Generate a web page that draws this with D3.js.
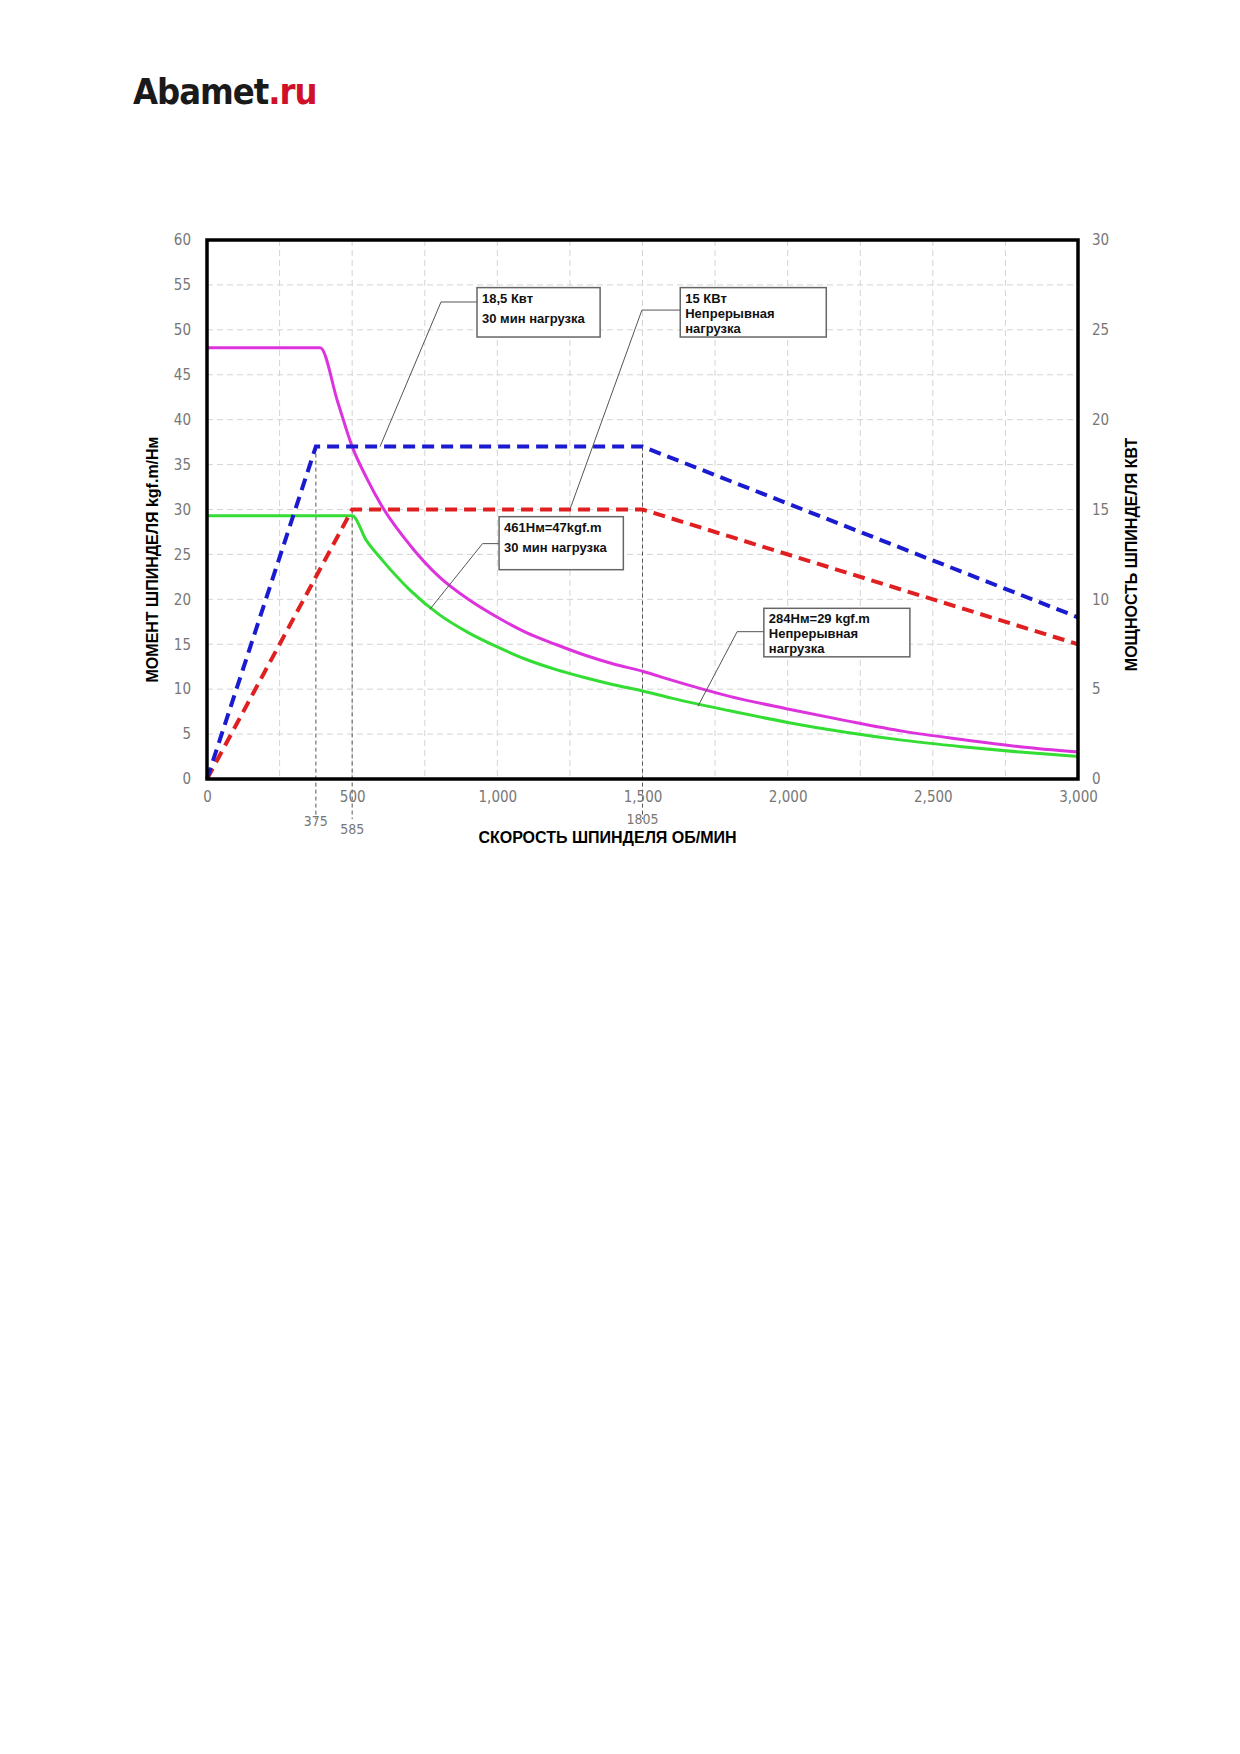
<!DOCTYPE html><html><head><meta charset="utf-8"><script src="https://cdn.jsdelivr.net/npm/d3@7"></script>
<style>body{margin:0;background:#fff}</style></head><body><svg id="c" width="1240" height="1754"></svg><script>
const torque30 = [[0,48],[390,48],[450,42],[500,37],[550,33.5],[600,30.5],[700,26],[800,22.5],[900,20],[1000,18],[1100,16.3],[1200,15],[1300,13.8],[1400,12.8],[1500,12],[1600,11],[1800,9.2],[2000,7.8],[2200,6.5],[2400,5.3],[2600,4.4],[2800,3.6],[3000,3]];
const torqueCont = [[0,29.3],[500,29.3],[550,26.5],[600,24.5],[700,21],[800,18.3],[900,16.3],[1000,14.7],[1100,13.3],[1200,12.2],[1300,11.3],[1400,10.5],[1500,9.8],[1600,9],[1800,7.6],[2000,6.3],[2200,5.2],[2400,4.3],[2600,3.6],[2800,3],[3000,2.5]];
const power30 = [[0,0],[375,18.5],[1500,18.5],[3000,9]];
const powerCont = [[0,0],[500,15],[1500,15],[3000,7.5]];
const xTicks = [0,500,1000,1500,2000,2500,3000];
const yLeftTicks = [0,5,10,15,20,25,30,35,40,45,50,55,60];
const yRightTicks = [0,5,10,15,20,25,30];
const markers = [375,500,1500];
const markerLabels = [{x:375,t:"375",dy:47},{x:500,t:"585",dy:55},{x:1500,t:"1805",dy:45}];
const notes = [
 {box:[930,1354,54.7,49.2],lines:["18,5 Квт","30 мин нагрузка"],lead:[[930,53.1],[806,53.1],[596,37]]},
 {box:[1630,2133,54.7,49.2],lines:["15 КВт","Непрерывная","нагрузка"],lead:[[1630,52.2],[1498,52.2],[1250,30]]},
 {box:[1006,1434,29.2,23.3],lines:["461Нм=47kgf.m","30 мин нагрузка"],lead:[[1006,26.2],[949,26.2],[768,18.9]]},
 {box:[1918,2421,19.0,13.6],lines:["284Нм=29 kgf.m","Непрерывная","нагрузка"],lead:[[1918,16.4],[1826,16.4],[1691,8.1]]}
];
const svg=d3.select("#c");
const L=207,R=1078,T=240,B=779;
const x=d3.scaleLinear().domain([0,3000]).range([L,R]);
const yl=d3.scaleLinear().domain([0,60]).range([B,T]);
const yr=d3.scaleLinear().domain([0,30]).range([B,T]);
const lg=svg.append("text").attr("x",133).attr("y",104).attr("font-family","DejaVu Sans Condensed").attr("font-weight","900").attr("font-size",36).attr("letter-spacing","-1");
lg.append("tspan").attr("fill","#1a1a1a").text("Abamet");
lg.append("tspan").attr("fill","#d0102a").text(".ru");
const g=svg.append("g");
g.selectAll(".gx").data(d3.range(250,3000,250)).join("line").attr("x1",d=>x(d)).attr("x2",d=>x(d)).attr("y1",T).attr("y2",B).attr("stroke","#d4d4d4").attr("stroke-dasharray","6,4");
g.selectAll(".gy").data(d3.range(5,60,5)).join("line").attr("x1",L).attr("x2",R).attr("y1",d=>yl(d)).attr("y2",d=>yl(d)).attr("stroke","#d4d4d4").attr("stroke-dasharray","6,4");
g.selectAll(".mk").data(markers).join("line").attr("x1",d=>x(d)).attr("x2",d=>x(d)).attr("y1",d=>d===500?yr(15):yr(18.5)).attr("y2",B+40).attr("stroke","#555").attr("stroke-dasharray","4,3").attr("stroke-width",1);
svg.selectAll(".ml").data(markerLabels).join("text").attr("x",d=>x(d.x)).attr("y",d=>B+d.dy).attr("text-anchor","middle").attr("font-family","Liberation Sans Narrow, DejaVu Sans Condensed").attr("font-size",14).attr("fill","#777").text(d=>d.t);
const ax=svg.append("g").attr("transform",`translate(0,${B})`).call(d3.axisBottom(x).tickValues(xTicks).tickSize(0).tickPadding(12).tickFormat(d3.format(",")));
const ayl=svg.append("g").attr("transform",`translate(${L},0)`).call(d3.axisLeft(yl).tickValues(yLeftTicks).tickSize(0).tickPadding(16));
const ayr=svg.append("g").attr("transform",`translate(${R},0)`).call(d3.axisRight(yr).tickValues(yRightTicks).tickSize(0).tickPadding(14));
[ax,ayl,ayr].forEach(a=>{a.select(".domain").remove();a.selectAll("text").attr("font-family","Liberation Sans Narrow, DejaVu Sans Condensed").attr("font-size",15).attr("fill","#777");});
const lnL=d3.line().x(d=>x(d[0])).y(d=>yl(d[1]));
const crvL=d3.line().curve(d3.curveMonotoneX).x(d=>x(d[0])).y(d=>yl(d[1]));
const lnR=d3.line().x(d=>x(d[0])).y(d=>yr(d[1]));
svg.append("path").datum(torqueCont).attr("d",crvL).attr("fill","none").attr("stroke","#33dd33").attr("stroke-width",3);
svg.append("path").datum(torque30).attr("d",crvL).attr("fill","none").attr("stroke","#dd33dd").attr("stroke-width",3);
svg.append("path").datum(powerCont).attr("d",lnR).attr("fill","none").attr("stroke","#e02020").attr("stroke-width",4).attr("stroke-dasharray","12,7");
svg.append("path").datum(power30).attr("d",lnR).attr("fill","none").attr("stroke","#1a1ad0").attr("stroke-width",4).attr("stroke-dasharray","12,7");
notes.forEach(n=>{
 svg.append("path").datum(n.lead).attr("d",lnL).attr("fill","none").attr("stroke","#555").attr("stroke-width",1);
 const bx=x(n.box[0]),bw=x(n.box[1])-bx,by=yl(n.box[2]),bh=yl(n.box[3])-by;
 svg.append("rect").attr("x",bx).attr("y",by).attr("width",bw).attr("height",bh).attr("fill","#fff").attr("stroke","#666").attr("stroke-width",1.5);
 const step=n.lines.length===2?20:15;
 n.lines.forEach((t,i)=>svg.append("text").attr("x",bx+5).attr("y",by+15+i*step).attr("font-family","Liberation Sans, Arial").attr("font-weight","bold").attr("font-size",13).attr("fill","#111").text(t));
});
svg.append("rect").attr("x",L).attr("y",T).attr("width",R-L).attr("height",B-T).attr("fill","none").attr("stroke","#000").attr("stroke-width",3.5);
svg.append("text").attr("x",(L+R)/2-35).attr("y",843).attr("text-anchor","middle").attr("font-family","Liberation Sans, Arial").attr("font-weight","bold").attr("font-size",16).text("СКОРОСТЬ ШПИНДЕЛЯ ОБ/МИН");
svg.append("text").attr("transform",`translate(158,${(T+B)/2+50}) rotate(-90)`).attr("text-anchor","middle").attr("font-family","Liberation Sans, Arial").attr("font-weight","bold").attr("font-size",16).text("МОМЕНТ ШПИНДЕЛЯ kgf.m/Нм");
svg.append("text").attr("transform",`translate(1137,${(T+B)/2+45}) rotate(-90)`).attr("text-anchor","middle").attr("font-family","Liberation Sans, Arial").attr("font-weight","bold").attr("font-size",16).text("МОЩНОСТЬ ШПИНДЕЛЯ КВТ");
</script></body></html>
